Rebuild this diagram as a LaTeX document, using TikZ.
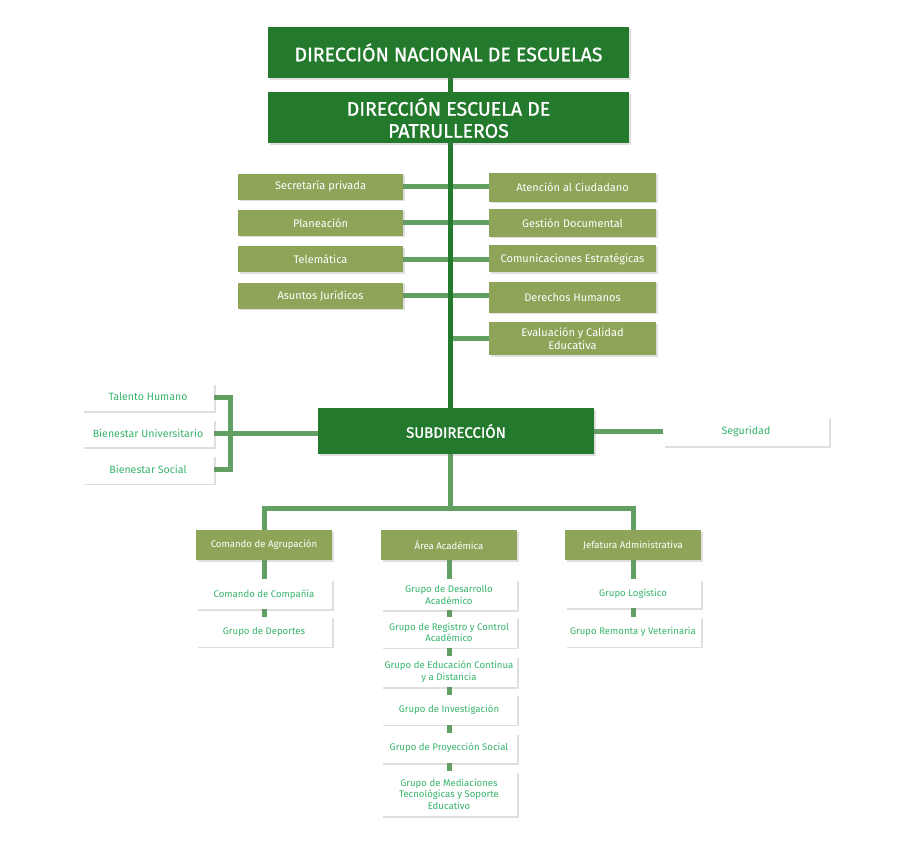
\documentclass[tikz,border=0pt]{standalone}
\usepackage{fontspec}
\setmainfont{Fira Sans}
\newfontfamily\titular{Fira Sans}[FakeBold=1.2]
\usetikzlibrary{positioning,shadows,backgrounds}
\definecolor{verdeosc}{HTML}{23792C}
\definecolor{oliva}{HTML}{8EA559}
\definecolor{linea}{HTML}{629F62}
\definecolor{texto}{HTML}{38B46D}

\begin{document}
\begin{tikzpicture}[x=1pt, y=-1pt, node distance=8pt,
  sombra/.style={drop shadow={opacity=0.25, shadow xshift=1.5pt, shadow yshift=-1.5pt}},
  jefe/.style={fill=verdeosc, sombra, align=center, text=white, inner sep=2pt, font=\titular\fontsize{19.5}{22}\selectfont},
  staff/.style={fill=oliva, sombra, align=center, text=white, inner sep=2pt, font=\fontsize{11}{13}\selectfont},
  area/.style={fill=oliva, sombra, align=center, text=white, inner sep=2pt, minimum width=136pt, minimum height=30pt, font=\fontsize{9.6}{11.5}\selectfont},
  unidad/.style={fill=white, sombra, align=center, text=texto, inner sep=2pt, minimum width=136pt, minimum height=31pt, font=\fontsize{9.6}{11.5}\selectfont},
  apoyo/.style={fill=white, sombra, align=center, text=texto, inner sep=2pt, minimum height=28pt, font=\fontsize{10.6}{12.5}\selectfont},
  mando/.style={line width=5pt, verdeosc},
  rama/.style={line width=5pt, linea}]
\useasboundingbox (0,0) rectangle (900,860);
% direccion
\node[jefe, minimum width=361pt, minimum height=51pt] (dne) at (448.5,52.5) {DIRECCIÓN NACIONAL DE ESCUELAS};
\node[jefe, minimum width=361pt, minimum height=51pt, below=14pt of dne] (dep) {DIRECCIÓN ESCUELA DE\\PATRULLEROS};
% staff izquierda
\node[staff, minimum width=165pt, minimum height=26pt] (secre) at (320.5,186.5) {Secretaría privada};
\node[staff, minimum width=165pt, minimum height=26pt, below=10pt of secre] (plan) {Planeación};
\node[staff, minimum width=165pt, minimum height=26pt, below=10pt of plan] (tele) {Telemática};
\node[staff, minimum width=165pt, minimum height=26pt, below=10pt of tele] (jur) {Asuntos Jurídicos};
% staff derecha
\node[staff, minimum width=167pt, minimum height=29pt] (aten) at (572.5,187) {Atención al Ciudadano};
\node[staff, minimum width=167pt, minimum height=28pt, below=7pt of aten] (gest) {Gestión Documental};
\node[staff, minimum width=167pt, minimum height=27pt, below=8pt of gest] (comu) {Comunicaciones Estratégicas};
\node[staff, minimum width=167pt, minimum height=31pt, below=9pt of comu] (ddhh) {Derechos Humanos};
\node[staff, minimum width=167pt, minimum height=33pt, below=9pt of ddhh] (eval) {Evaluación y Calidad\\Educativa};
% subdireccion
\node[jefe, minimum width=276pt, minimum height=46pt, font=\titular\fontsize{15}{17}\selectfont] (sub) at (456,431) {SUBDIRECCIÓN};
\node[apoyo, minimum width=132pt] (talento) at (148,397) {Talento Humano};
\node[apoyo, minimum width=132pt, below=8pt of talento] (bienu) {Bienestar Universitario};
\node[apoyo, minimum width=132pt, below=8pt of bienu] (biens) {Bienestar Social};
\node[apoyo, minimum width=166pt, minimum height=29pt] (segu) at (746,431.5) {Seguridad};
% areas
\node[area] (cagr) at (264,545) {Comando de Agrupación};
\node[area] (acad) at (449,545) {Área Académica};
\node[area] (jefa) at (633,545) {Jefatura Administrativa};
\node[unidad, minimum height=30pt, below=19pt of cagr] (ccia) {Comando de Compañía};
\node[unidad, minimum height=30pt, below=7pt of ccia] (depo) {Grupo de Deportes};
\node[unidad, below=19pt of acad] (gdes) {Grupo de Desarrollo\\Académico};
\node[unidad, below=6pt of gdes] (greg) {Grupo de Registro y Control\\Académico};
\node[unidad, below=8pt of greg] (gedu) {Grupo de Educación Continua\\y a Distancia};
\node[unidad, minimum height=30pt, below=7pt of gedu] (ginv) {Grupo de Investigación};
\node[unidad, minimum height=30pt, below=8pt of ginv] (gpro) {Grupo de Proyección Social};
\node[unidad, minimum height=45pt, below=8pt of gpro] (gmed) {Grupo de Mediaciones\\Tecnológicas y Soporte\\Educativo};
\node[unidad, minimum height=29pt, below=19pt of jefa] (glog) {Grupo Logístico};
\node[unidad, minimum height=30pt, below=8pt of glog] (grem) {Grupo Remonta y Veterinaria};
\coordinate (eje) at (450,508);
\begin{pgfonlayer}{background}
\fill[white] (0,0) rectangle (900,860);
\foreach \a/\b in {secre/aten,plan/gest,tele/comu,jur/ddhh}{\draw[rama] (\a.east) -- (\a.east -| \b.west);}
\draw[rama] (eval.west) -- (eval.west -| eje);
\draw[rama] (bienu.east) -- (bienu.east -| sub.west);
\draw[rama] (talento.east) -| ([xshift=16pt]biens.east) -- (biens.east);
\draw[rama] (segu.west) -- (segu.west -| sub.east);
\draw[rama] (eje |- sub.south) -- (eje);
\draw[rama] (cagr.north) |- (eje) -| (jefa.north);
\foreach \a/\b in {cagr/depo,acad/gmed,jefa/grem}{\draw[rama] (\a.north) -- (\b.center);}
\draw[mando] (dne.south -| eje) -- (eje |- sub.north);
\end{pgfonlayer}
\end{tikzpicture}
\end{document}
